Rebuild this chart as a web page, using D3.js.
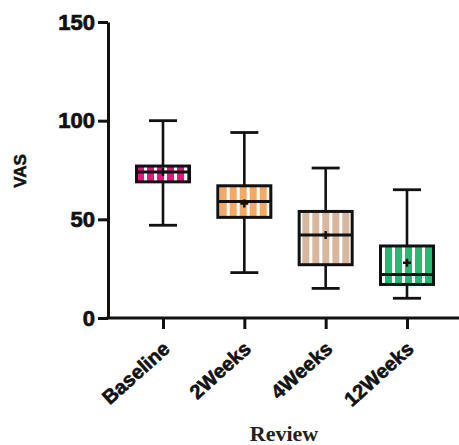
<!DOCTYPE html>
<html>
<head>
<meta charset="utf-8">
<script src="https://cdn.jsdelivr.net/npm/d3@7"></script>
<style>
  body { margin: 0; background: #fff; }
  svg { display: block; }
</style>
</head>
<body>
<svg id="chart" width="459" height="445"></svg>
<script>
(function(){

  // data
  const categories = ["Baseline", "2Weeks", "4Weeks", "12Weeks"];
  const minVals = [47, 23, 15, 10];
  const q1Vals = [69, 51, 27, 17];
  const medianVals = [74, 59, 42, 22];
  const q3Vals = [77, 67, 54, 36.5];
  const maxVals = [100, 94, 76, 65];
  const meanVals = [74, 58, 42, 28];
  const yTicks = [0, 50, 100, 150];

  const fills = ["#e2177c", "#f4a862", "#d8b79f", "#27b874"];

  const svg = d3.select("#chart");

  // scales
  const xScale = d3.scalePoint().domain(categories).range([163, 407]);
  const yScale = d3.scaleLinear().domain([0, 150]).range([318, 22]);

  // stripe patterns
  const defs = svg.append("defs");
  fills.forEach((c, i) => {
    const p = defs.append("pattern")
      .attr("id", "stripe" + i)
      .attr("patternUnits", "userSpaceOnUse")
      .attr("width", 10)
      .attr("height", 10)
      .attr("x", xScale(categories[i]) - 2);
    p.append("rect").attr("width", 10).attr("height", 10).attr("fill", c);
    p.append("rect").attr("x", 0).attr("width", 3).attr("height", 10).attr("fill", "#fff");
  });

  const boxW = 53, capW = 28;

  const data = categories.map((c, i) => ({
    cat: c, min: minVals[i], q1: q1Vals[i], med: medianVals[i],
    q3: q3Vals[i], max: maxVals[i], mean: meanVals[i], idx: i
  }));

  const g = svg.append("g");

  const box = g.selectAll(".box")
    .data(data)
    .enter()
    .append("g")
      .attr("class", "box")
      .attr("transform", d => "translate(" + xScale(d.cat) + ",0)");

  // whiskers
  box.append("line")
    .attr("x1", 0).attr("x2", 0)
    .attr("y1", d => yScale(d.max)).attr("y2", d => yScale(d.min))
    .attr("stroke", "#111").attr("stroke-width", 2.6);

  box.selectAll(".cap")
    .data(d => [d.min, d.max])
    .enter()
    .append("line")
      .attr("x1", -capW / 2).attr("x2", capW / 2)
      .attr("y1", v => yScale(v)).attr("y2", v => yScale(v))
      .attr("stroke", "#111").attr("stroke-width", 2.8);

  // boxes
  box.append("rect")
    .attr("x", -boxW / 2)
    .attr("width", boxW)
    .attr("y", d => yScale(d.q3))
    .attr("height", d => yScale(d.q1) - yScale(d.q3))
    .attr("fill", d => "url(#stripe" + d.idx + ")")
    .attr("stroke", "#111")
    .attr("stroke-width", 3);

  // median
  box.append("line")
    .attr("x1", -boxW / 2).attr("x2", boxW / 2)
    .attr("y1", d => yScale(d.med)).attr("y2", d => yScale(d.med))
    .attr("stroke", "#111").attr("stroke-width", 3);

  // mean marker
  box.append("path")
    .attr("d", d => {
      const y = yScale(d.mean);
      return "M-4," + y + "H4M0," + (y - 4) + "V" + (y + 4);
    })
    .attr("stroke", "#111").attr("stroke-width", 2.5);

  const labelFont = "bold 22px 'Liberation Sans', Arial, sans-serif";

  // axes
  const yAxis = d3.axisLeft(yScale).tickValues(yTicks).tickSize(10).tickSizeOuter(0).tickPadding(3);
  const yG = svg.append("g").attr("transform", "translate(108,0)").call(yAxis);
  yG.select(".domain").attr("stroke", "#111").attr("stroke-width", 3);
  yG.selectAll(".tick line").attr("stroke", "#111").attr("stroke-width", 3);
  yG.selectAll(".tick text")
    .attr("fill", "#111")
    .attr("stroke", "#111")
    .attr("stroke-width", 0.7)
    .style("font", labelFont);

  // x axis line extends to the right edge
  svg.append("line")
    .attr("x1", 106.5).attr("x2", 459)
    .attr("y1", 318).attr("y2", 318)
    .attr("stroke", "#111").attr("stroke-width", 3);

  const xAxis = d3.axisBottom(xScale).tickSize(11).tickSizeOuter(0);
  const xG = svg.append("g").attr("transform", "translate(0,318)").call(xAxis);
  xG.select(".domain").remove();
  xG.selectAll(".tick line").attr("stroke", "#111").attr("stroke-width", 3);
  xG.selectAll(".tick text")
    .attr("fill", "#111")
    .attr("stroke", "#111")
    .attr("stroke-width", 0.6)
    .attr("text-anchor", "end")
    .attr("transform", "translate(-2,22) rotate(-42)")
    .attr("dy", "0.71em")
    .attr("y", 0)
    .style("font", "bold 20px 'Liberation Sans', Arial, sans-serif");

  // axis titles
  svg.append("text")
    .attr("transform", "translate(26,171) rotate(-90)")
    .attr("text-anchor", "middle")
    .attr("fill", "#111")
    .attr("stroke", "#111")
    .attr("stroke-width", 0.5)
    .style("font", "bold 17px 'Liberation Sans', Arial, sans-serif")
    .text("VAS");

  svg.append("text")
    .attr("x", 284)
    .attr("y", 441)
    .attr("text-anchor", "middle")
    .attr("fill", "#222")
    .style("font", "bold 22px 'Liberation Serif', 'Times New Roman', serif")
    .text("Review");

})();
</script>
</body>
</html>
